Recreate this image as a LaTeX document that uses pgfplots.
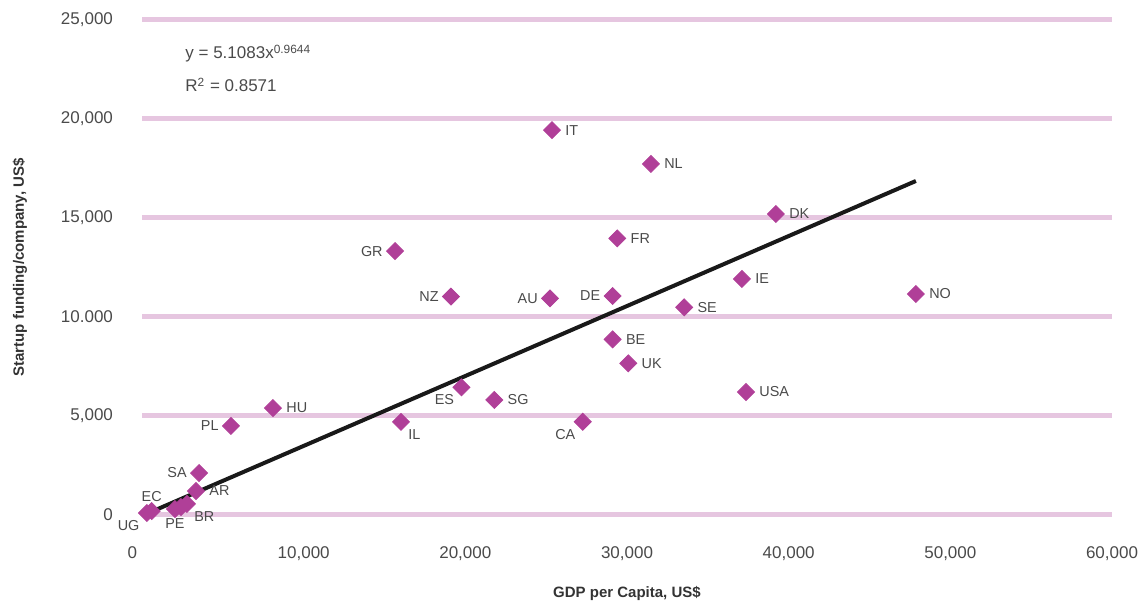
\documentclass[border=0pt]{standalone}
\usepackage{pgfplots}
\pgfplotsset{compat=1.18}
\usepackage{fontspec}
\setmainfont{Liberation Sans}
\definecolor{gridpink}{HTML}{E6C6E0}
\definecolor{mk}{HTML}{B03F98}
\definecolor{txt}{HTML}{4A4A4A}

\pgfplotsset{
  pts/.style 2 args={only marks, mark=square*, mark size=3.0pt,
    mark options={rotate=45, fill=mk, draw=mk},
    nodes near coords, point meta=explicit symbolic,
    every node near coord/.append style={anchor=#1, font=\fontsize{7.2}{8}\selectfont, text=txt, inner sep=#2}},
}

\begin{document}
\begin{tikzpicture}
\begin{axis}[
  name=ax,
  scale only axis,
  width=485pt, height=247.5pt,
  xmin=0, xmax=60000, ymin=0, ymax=25000,
  scaled ticks=false,
  clip=false,
  axis line style={draw=none},
  major tick length=0pt,
  xtick={0,10000,20000,30000,40000,50000,60000},
  xticklabels={\makebox[0pt][r]{0\hspace{2.5pt}},{10,000},{20,000},{30,000},{40,000},{50,000},{60,000}},
  ytick={0,5000,10000,15000,20000,25000},
  yticklabels={0,{5,000},{10.000},{15,000},{20,000},{25,000}},
  ymajorgrids,
  major grid style={draw=gridpink, line width=2.5pt},
  ticklabel style={font=\fontsize{8.5}{10}\selectfont, text=txt},
  yticklabel style={xshift=-11pt},
  xticklabel style={yshift=-12.5pt},
  xlabel={\textbf{GDP per Capita, US\$}},
  ylabel={\textbf{Startup funding/company, US\$}},
  label style={font=\fontsize{7.5}{9}\selectfont, text=black!80},
  xlabel style={at={(axis description cs:0.5,0)}, anchor=center, yshift=-39pt},
  ylabel style={at={(axis description cs:0,0.5)}, anchor=center, yshift=61pt},
]
% trend line
\addplot[color=black!90, line width=2pt, no marks] coordinates {(600,170) (20000,7020) (47870,16870)};
% labels to the right
\addplot[pts={west}{6.5pt}] coordinates {
 (3340,1210) [AR] (8100,5400) [HU] (21790,5810) [SG] (29400,13970) [FR]
 (33540,10490) [SE] (29110,8870) [BE] (30080,7660) [UK] (25360,19440) [IT]
 (31480,17730) [NL] (39210,15200) [DK] (37110,11920) [IE] (47870,11160) [NO]
 (37360,6210) [USA]};
% labels to the left
\addplot[pts={east}{6pt}] coordinates {
 (3530,2120) [SA] (5500,4500) [PL] (15650,13330) [GR] (19110,11030) [NZ]
 (25240,10940) [AU] (29110,11060) [DE]};
% below left
\addplot[pts={north east}{3.5pt}] coordinates {
 (300,100) [UG] (19760,6450) [ES] (27260,4710) [CA]};
% below right
\addplot[pts={north west}{3.5pt}] coordinates {
 (2780,560) [BR] (16020,4700) [IL]};
% below
\addplot[pts={north}{4.5pt}] coordinates {(2040,300) [PE] (2410,400) [{}]};
% above
\addplot[pts={south}{4.5pt}] coordinates {(600,200) [EC]};
\node[anchor=west, inner sep=0pt, font=\fontsize{8.5}{10}\selectfont, text=txt] at (axis cs:2660,23300) {y = 5.1083x\textsuperscript{0.9644}};
\node[anchor=west, inner sep=0pt, font=\fontsize{8.5}{10}\selectfont, text=txt] at (axis cs:2660,21720) {R\textsuperscript{2} = 0.8571};
\end{axis}
\pgfresetboundingbox
\path[use as bounding box] ([xshift=-71pt,yshift=-43.5pt]ax.south west) rectangle ([xshift=14pt,yshift=10pt]ax.north east);
\end{tikzpicture}
\end{document}
